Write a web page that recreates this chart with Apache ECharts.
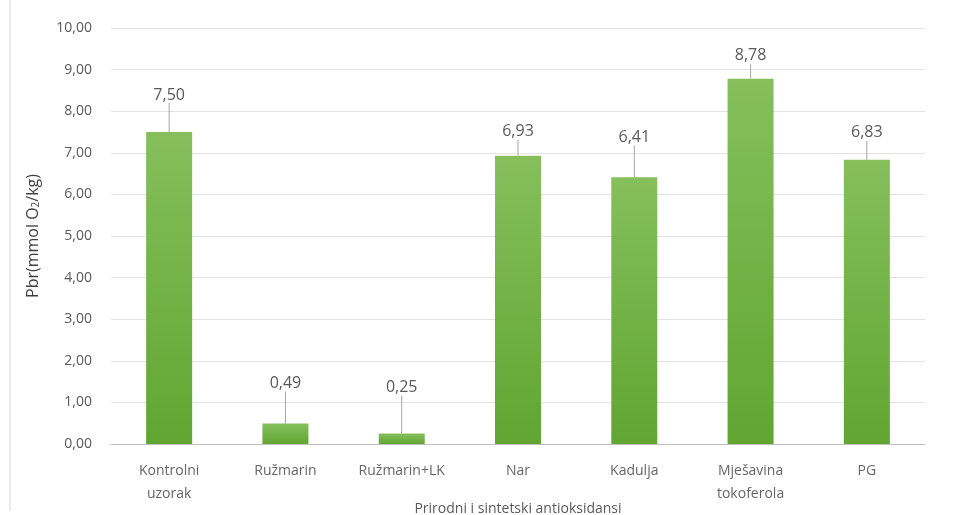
<!DOCTYPE html>
<html>
<head>
<meta charset="utf-8">
<title>Pbr</title>
<script src="https://cdn.jsdelivr.net/npm/echarts@6/dist/echarts.min.js"></script>
<style>
  html, body { margin: 0; padding: 0; background: #fff; }
  #chart { width: 963px; height: 515px; }
</style>
</head>
<body>
<div id="chart"></div>
<script>
// podaci
var categories = ['Kontrolni\nuzorak', 'Ružmarin', 'Ružmarin+LK', 'Nar', 'Kadulja', 'Mješavina\ntokoferola', 'PG'];
var values = [7.50, 0.49, 0.25, 6.93, 6.41, 8.78, 6.83];
var yTicks = [0, 1, 2, 3, 4, 5, 6, 7, 8, 9, 10];

// pomak natpisa iznad stupca (px)
var labelLift = [-23, -26, -32, -10, -26, -9, -13];

var chart = echarts.init(document.getElementById('chart'));
var fmt = function (v) { return Number(v).toFixed(2).replace('.', ','); };

chart.setOption({
    animation: false,
    textStyle: { fontFamily: 'Open Sans', color: '#595959' },
    grid: { left: 111, right: 38, top: 28, bottom: 71, outerBoundsMode: 'none', containLabel: false },
    graphic: [{
        type: 'line', shape: { x1: 10, y1: 0, x2: 10, y2: 511 },
        style: { stroke: '#d9d9d9', lineWidth: 1 }
    }],
    xAxis: {
        type: 'category',
        data: categories,
        name: 'Prirodni i sintetski antioksidansi',
        nameLocation: 'middle',
        nameGap: 58,
        nameMoveOverlap: false,
        nameTextStyle: { fontSize: 14, color: '#595959' },
        axisLine: { lineStyle: { color: '#bfbfbf' } },
        axisTick: { show: false },
        axisLabel: { fontSize: 14, color: '#666666', margin: 16, lineHeight: 23 }
    },
    yAxis: {
        type: 'value',
        min: yTicks[0],
        max: yTicks[yTicks.length - 1],
        interval: 1,
        name: 'Pbr(mmol O{sub|2}/kg)',
        nameLocation: 'middle',
        nameGap: 70,
        nameRotate: 90,
        nameMoveOverlap: false,
        nameTextStyle: {
            fontSize: 16, color: '#404040',
            rich: { sub: { fontSize: 10, verticalAlign: 'bottom', color: '#404040' } }
        },
        axisLine: { show: false },
        axisTick: { show: false },
        axisLabel: { fontSize: 14, color: '#595959', margin: 19, formatter: fmt },
        splitLine: { lineStyle: { color: '#e3e3e3' } }
    },
    series: [{
        type: 'bar',
        data: values,
        barWidth: 46,
        itemStyle: {
            color: new echarts.graphic.LinearGradient(0, 0, 0, 1, [
                { offset: 0, color: '#86bf5c' },
                { offset: 1, color: '#60a631' }
            ])
        },
        label: {
            show: true,
            position: 'top',
            distance: 6,
            fontSize: 16,
            color: '#595959',
            formatter: function (p) { return fmt(p.value); }
        },
        labelLayout: function (p) { return { dy: labelLift[p.dataIndex] }; },
        labelLine: { show: true, lineStyle: { color: '#a6a6a6', width: 1 } }
    }]
});
</script>
</body>
</html>
